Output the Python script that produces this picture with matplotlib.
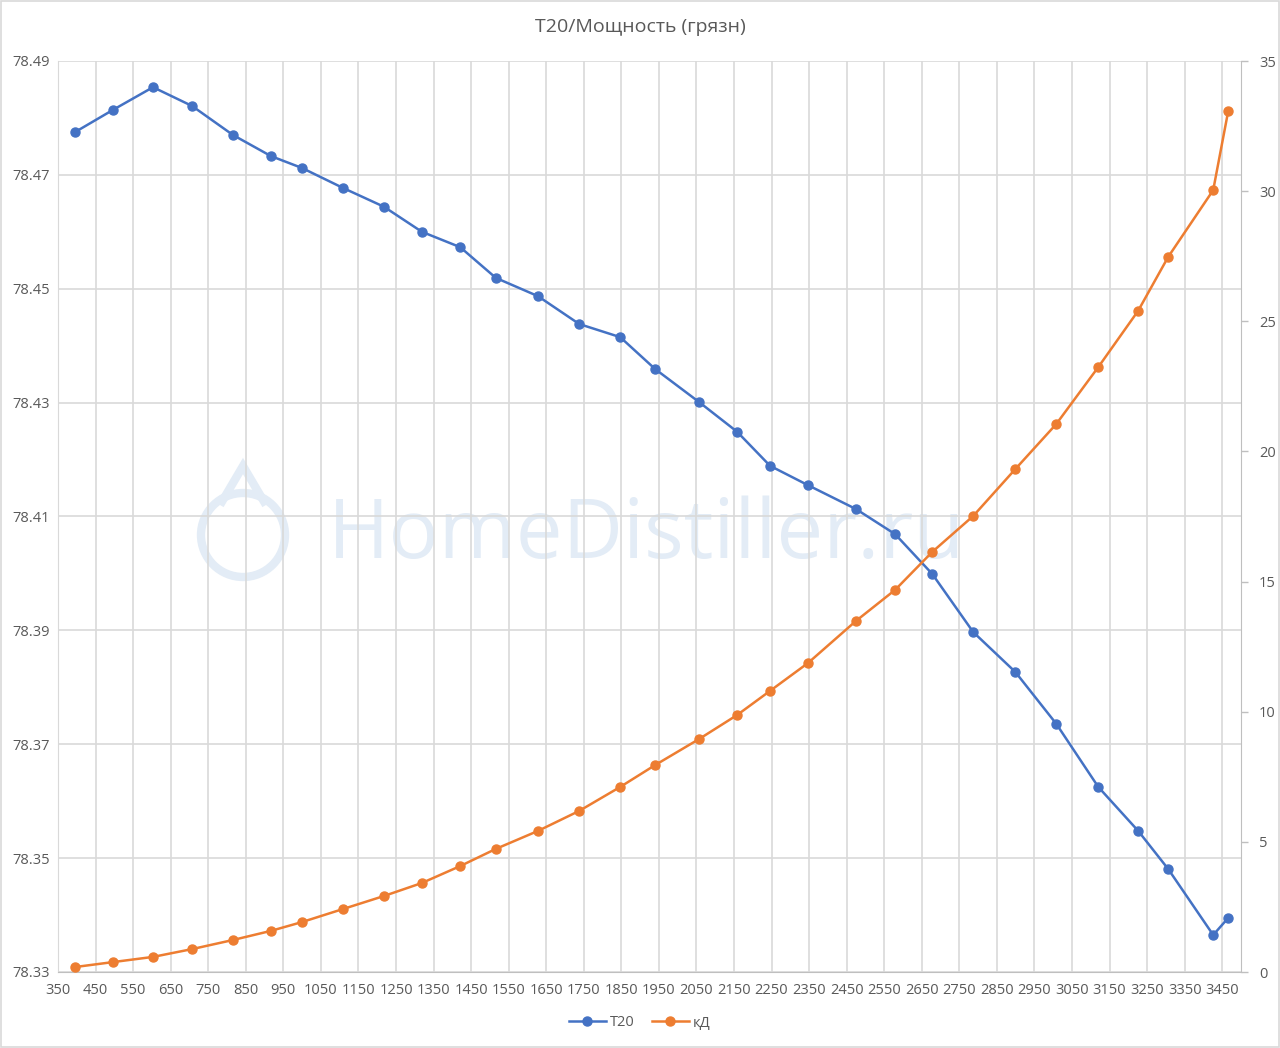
import numpy as np
import matplotlib
matplotlib.use("Agg")
import matplotlib.pyplot as plt
from matplotlib.patches import Rectangle, Circle, Polygon
from matplotlib.lines import Line2D

plt.rcParams["font.family"] = ["Open Sans", "DejaVu Sans"]

TITLE = "T20/Мощность (грязн)"

# power, W
power = [395, 496, 603, 707, 816, 917, 1000, 1109, 1218, 1319, 1421, 1516,
         1628, 1738, 1847, 1940, 2057, 2158, 2246, 2347, 2475, 2579, 2678,
         2787, 2899, 3008, 3120, 3226, 3306, 3426, 3466]

t20 = [78.4775, 78.4814, 78.4854, 78.4821, 78.4770, 78.4733, 78.4712, 78.4677,
       78.4644, 78.4600, 78.4573, 78.4519, 78.4487, 78.4438, 78.4415, 78.4359,
       78.4301, 78.4249, 78.4189, 78.4155, 78.4113, 78.4069, 78.3999, 78.3897,
       78.3827, 78.3736, 78.3625, 78.3548, 78.3481, 78.3365, 78.3395]

kd = [0.19, 0.38, 0.58, 0.88, 1.23, 1.58, 1.92, 2.42, 2.92, 3.42, 4.07, 4.73,
      5.42, 6.19, 7.11, 7.95, 8.95, 9.87, 10.80, 11.87, 13.49, 14.68, 16.14,
      17.52, 19.32, 21.05, 23.24, 25.40, 27.47, 30.04, 33.08]

x_ticks = np.arange(350, 3451, 100)
y_left_ticks = [78.33, 78.35, 78.37, 78.39, 78.41, 78.43, 78.45, 78.47, 78.49]
y_right_ticks = [0, 5, 10, 15, 20, 25, 30, 35]

BLUE = "#4472C4"
ORANGE = "#ED7D31"
GRID = "#D9D9D9"
TEXT = "#595959"
WM = "#E3ECF6"

fig = plt.figure(figsize=(12.8, 10.48), dpi=100)
fig.patches.append(Rectangle((0.001, 0.001), 0.998, 0.998, transform=fig.transFigure,
                             fill=False, edgecolor="#D9D9D9", linewidth=1.2))

ax = fig.add_axes([58 / 1280, 1 - 972 / 1048, (1241 - 58) / 1280, (972 - 61) / 1048])
ax2 = ax.twinx()

ax.set_xlim(350, 3500)
ax.set_ylim(78.33, 78.49)
ax2.set_ylim(0, 35)

ax.set_xticks(x_ticks)
ax.set_xticklabels([str(v) for v in x_ticks])
ax.set_yticks(y_left_ticks)
ax.set_yticklabels([f"{v:.2f}" for v in y_left_ticks])
ax2.set_yticks(y_right_ticks)

ax.grid(True, color=GRID, linewidth=1.2)
ax.set_axisbelow(True)
ax.tick_params(axis="both", length=0, labelsize=10.5, colors=TEXT, pad=8)
ax.tick_params(axis="y", pad=6)
ax2.tick_params(axis="y", length=5, width=1, labelsize=10.5,
                colors=TEXT, pad=8)
ax2.tick_params(axis="y", color="#BFBFBF")

for s in ("top", "right"):
    ax.spines[s].set_visible(False)
    ax2.spines[s].set_visible(s == "right")
ax.spines["left"].set_color(GRID)
ax.spines["bottom"].set_color("#BFBFBF")
ax2.spines["left"].set_visible(False)
ax2.spines["bottom"].set_visible(False)
ax2.spines["right"].set_color("#BFBFBF")

# watermark (in inches from the lower-left corner)
ax.text(3.28, 10.48 - 5.37, "HomeDistiller.ru", transform=fig.dpi_scale_trans,
        fontsize=60, color=WM, ha="left", va="center", zorder=0.5)
ax.add_patch(Circle((2.43, 10.48 - 5.35), 0.42, transform=fig.dpi_scale_trans,
                    fill=False, edgecolor=WM, linewidth=6, zorder=0.5))
ax.add_patch(Polygon([(2.20, 10.48 - 5.05), (2.43, 10.48 - 4.66), (2.66, 10.48 - 5.05)],
                     closed=False, fill=False, edgecolor=WM, linewidth=6,
                     transform=fig.dpi_scale_trans, zorder=0.5))

ax.plot(power, t20, color=BLUE, linewidth=1.8, marker="o", markersize=6.5,
        zorder=3)
ax2.plot(power, kd, color=ORANGE, linewidth=1.8, marker="o", markersize=6.5,
         zorder=3)

fig.text(0.5, 1 - 27 / 1048, TITLE, ha="center", va="center", fontsize=14,
         color=TEXT)

handles = [Line2D([], [], color=BLUE, linewidth=1.8, marker="o", markersize=6.5),
           Line2D([], [], color=ORANGE, linewidth=1.8, marker="o", markersize=6.5)]
fig.legend(handles, ["T20", "кД"], loc="center", bbox_to_anchor=(0.5, 1 - 1023 / 1048),
           ncol=2, frameon=False, fontsize=10.5, labelcolor=TEXT,
           handlelength=2.5, columnspacing=1.2, handletextpad=0.3)

fig.savefig("out.png", dpi=100)
